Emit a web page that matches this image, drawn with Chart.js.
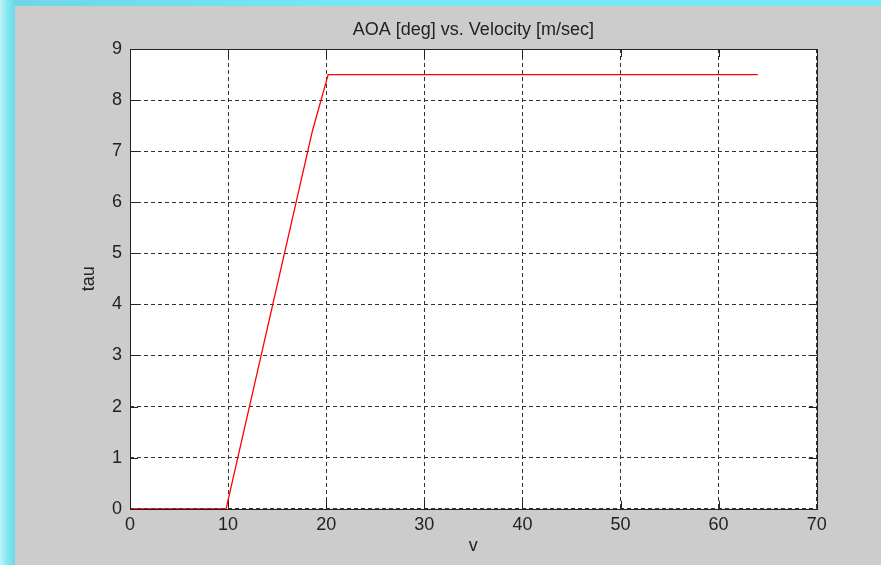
<!DOCTYPE html>
<html>
<head>
<meta charset="utf-8">
<script src="https://cdn.jsdelivr.net/npm/chart.js@4"></script>
<style>
  html, body { margin: 0; padding: 0; }
  body {
    width: 881px; height: 565px; overflow: hidden; position: relative;
    background: linear-gradient(90deg, #bff4f8 0px, #7fe6f2 8px, #6fd6e6 15px, #76e8f4 40%, #7ae8f4 100%);
  }
  #fig { position: absolute; left: 15px; top: 6px; width: 866px; height: 559px; background: #cccccc; }
  #wrap { position: absolute; left: 0; top: 0; width: 881px; height: 565px; }
</style>
</head>
<body>
<div id="fig"></div>
<div id="wrap"><canvas id="c" width="881" height="565"></canvas></div>
<script>
// ——— DATA ———
const velocity = [0, 9.8, 18.6, 20.2, 64];
const aoa      = [0, 0,   7.4,  8.5,  8.5];
const xTicks = [0, 10, 20, 30, 40, 50, 60, 70];
const yTicks = [0, 1, 2, 3, 4, 5, 6, 7, 8, 9];
const chartTitle = 'AOA [deg] vs. Velocity [m/sec]';
const xLabel = 'v';
const yLabel = 'tau';

const FONT = "'Liberation Sans', Arial, sans-serif";
const INK = '#222222';

// white axes background
const plotBg = {
  id: 'plotBg',
  beforeDraw(chart) {
    const { ctx, chartArea: a } = chart;
    ctx.save();
    ctx.fillStyle = '#ffffff';
    ctx.fillRect(a.left, a.top, a.right - a.left, a.bottom - a.top);
    ctx.restore();
  }
};

// MATLAB-style box, inward ticks and title
const matlabFrame = {
  id: 'matlabFrame',
  afterDraw(chart) {
    const { ctx, chartArea: a, scales: { x, y } } = chart;
    const tl = 8;
    ctx.save();
    ctx.strokeStyle = INK;
    ctx.lineWidth = 1;
    ctx.beginPath();
    xTicks.forEach(v => {
      const px = Math.round(x.getPixelForValue(v)) + 0.5;
      ctx.moveTo(px, a.bottom); ctx.lineTo(px, a.bottom - tl);
      ctx.moveTo(px, a.top); ctx.lineTo(px, a.top + tl);
    });
    yTicks.forEach(v => {
      const py = Math.round(y.getPixelForValue(v)) + 0.5;
      ctx.moveTo(a.left, py); ctx.lineTo(a.left + tl, py);
      ctx.moveTo(a.right, py); ctx.lineTo(a.right - tl, py);
    });
    ctx.stroke();
    ctx.strokeRect(Math.round(a.left) + 0.5, Math.round(a.top) + 0.5,
                   Math.round(a.right - a.left), Math.round(a.bottom - a.top));
    ctx.fillStyle = INK;
    ctx.font = '18px ' + FONT;
    ctx.textAlign = 'center';
    ctx.textBaseline = 'middle';
    ctx.fillText(chartTitle, (a.left + a.right) / 2, 30);
    ctx.restore();
  }
};

const gridOpts = { color: '#333333', lineWidth: 1, drawTicks: false, drawOnChartArea: true };

new Chart(document.getElementById('c'), {
  type: 'line',
  data: {
    datasets: [{
      data: velocity.map((v, i) => ({ x: v, y: aoa[i] })),
      borderColor: '#ff0000',
      borderWidth: 1.3,
      pointRadius: 0,
      tension: 0,
      fill: false
    }]
  },
  options: {
    responsive: false,
    animation: false,
    layout: { padding: { top: 49, right: 64.3, left: 0, bottom: 0 } },
    plugins: { legend: { display: false }, tooltip: { enabled: false }, title: { display: false } },
    scales: {
      x: {
        type: 'linear', min: 0, max: 70,
        afterBuildTicks: s => { s.ticks = xTicks.map(v => ({ value: v })); },
        afterFit: s => { s.height = 56.3; },
        grid: gridOpts,
        border: { display: false, dash: [4, 3] },
        ticks: { color: INK, font: { family: FONT, size: 18 }, padding: 6, maxRotation: 0 },
        title: { display: true, text: xLabel, color: INK, font: { family: FONT, size: 18 }, padding: { top: 0, bottom: 7.7 } }
      },
      y: {
        min: 0, max: 9,
        afterBuildTicks: s => { s.ticks = yTicks.map(v => ({ value: v })); },
        afterFit: s => { s.width = 130; },
        grid: gridOpts,
        border: { display: false, dash: [4, 3] },
        ticks: { color: INK, font: { family: FONT, size: 18 }, padding: 8 },
        title: { display: true, text: yLabel, color: INK, font: { family: FONT, size: 18 }, padding: { top: 78.2, bottom: 0 } }
      }
    }
  },
  plugins: [plotBg, matlabFrame]
});
</script>
</body>
</html>
